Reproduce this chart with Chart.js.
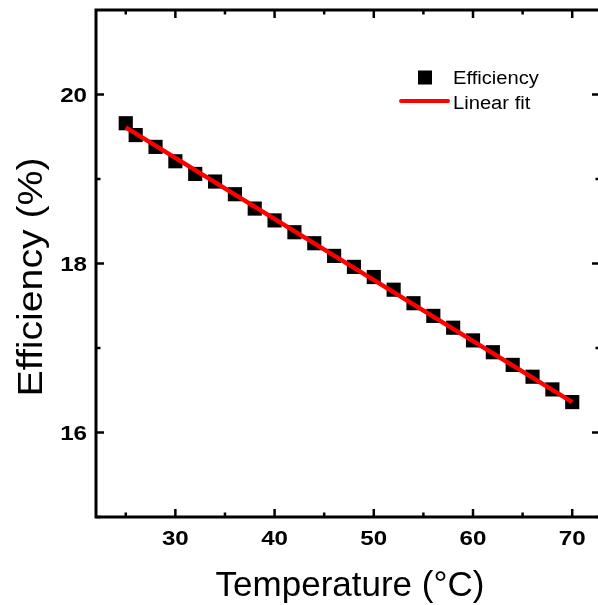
<!DOCTYPE html>
<html>
<head>
<meta charset="utf-8">
<script src="https://cdn.jsdelivr.net/npm/chart.js@4/dist/chart.umd.min.js"></script>
<style>
  html, body { margin: 0; padding: 0; overflow: hidden; background: #fff; }
  canvas { display: block; }
</style>
</head>
<body>
<canvas id="myChart" width="610" height="605"></canvas>
<script>
// Measured efficiency vs. temperature
const temperatures = [25, 26, 28, 30, 32, 34, 36, 38, 40, 42, 44, 46, 48, 50, 52, 54, 56, 58, 60, 62, 64, 66, 68, 70];
const efficiencies = [19.66, 19.52, 19.38, 19.21, 19.06, 18.97, 18.82, 18.65, 18.51, 18.37, 18.24, 18.09,
                      17.96, 17.84, 17.69, 17.53, 17.38, 17.24, 17.09, 16.95, 16.80, 16.66, 16.51, 16.36];

// Linear fit end points
const fitTemperatures = [25, 70];
const fitEfficiencies = [19.61, 16.36];

// Axis ticks
const xMajorTicks = [30, 40, 50, 60, 70];
const xMinorTicks = [25, 35, 45, 55, 65];
const yMajorTicks = [16, 18, 20];
const yMinorTicks = [15, 17, 19];

const FONT = 'Arial, "Liberation Sans", sans-serif';

// Draw text with a horizontal stretch factor
function drawText(ctx, text, x, y, font, sx, align, angle) {
    ctx.save();
    ctx.translate(x, y);
    if (angle) ctx.rotate(angle);
    ctx.scale(sx, 1);
    ctx.font = font;
    ctx.fillStyle = '#000';
    ctx.textAlign = align;
    ctx.textBaseline = 'alphabetic';
    ctx.fillText(text, 0, 0);
    ctx.restore();
}

// Frame, inward ticks, labels, titles and legend
const framePlugin = {
    id: 'frame',
    afterDraw(chart) {
        const ctx = chart.ctx;
        const area = chart.chartArea;
        const xs = chart.scales.x;
        const ys = chart.scales.y;

        ctx.save();
        ctx.strokeStyle = '#000';
        ctx.lineWidth = 3;
        ctx.strokeRect(area.left, area.top, area.right - area.left, area.bottom - area.top);

        ctx.lineWidth = 2.5;
        ctx.beginPath();
        const xTick = (v, len) => {
            const px = xs.getPixelForValue(v);
            ctx.moveTo(px, area.bottom); ctx.lineTo(px, area.bottom - len);
            ctx.moveTo(px, area.top); ctx.lineTo(px, area.top + len);
        };
        const yTick = (v, len) => {
            const py = ys.getPixelForValue(v);
            ctx.moveTo(area.left, py); ctx.lineTo(area.left + len, py);
            ctx.moveTo(area.right, py); ctx.lineTo(area.right - len, py);
        };
        xMajorTicks.forEach(v => xTick(v, 8));
        xMinorTicks.forEach(v => xTick(v, 4.5));
        yMajorTicks.forEach(v => yTick(v, 8));
        yMinorTicks.forEach(v => yTick(v, 4.5));
        ctx.stroke();
        ctx.restore();

        const tickFont = 'bold 21px ' + FONT;
        xMajorTicks.forEach(v => {
            drawText(ctx, String(v), xs.getPixelForValue(v), area.bottom + 28, tickFont, 1.15, 'center');
        });
        yMajorTicks.forEach(v => {
            drawText(ctx, String(v), area.left - 9, ys.getPixelForValue(v) + 7.5, tickFont, 1.15, 'right');
        });

        // Axis titles
        drawText(ctx, 'Temperature (°C)', 350, 596, '35px ' + FONT, 1.0, 'center');
        drawText(ctx, 'Efficiency (%)', 42, 277, '35px ' + FONT, 1.12, 'center', -Math.PI / 2);

        // Legend
        ctx.save();
        ctx.fillStyle = '#000';
        ctx.fillRect(418, 70.5, 14, 14);
        ctx.strokeStyle = '#ff0000';
        ctx.lineWidth = 4;
        ctx.lineCap = 'round';
        ctx.beginPath();
        ctx.moveTo(401, 101);
        ctx.lineTo(448, 101);
        ctx.stroke();
        ctx.restore();
        drawText(ctx, 'Efficiency', 453, 84, '18px ' + FONT, 1.12, 'left');
        drawText(ctx, 'Linear fit', 453, 109, '18px ' + FONT, 1.12, 'left');
    }
};

const chartConfig = {
    type: 'scatter',
    data: {
        datasets: [
            {
                label: 'Linear fit',
                type: 'line',
                data: fitTemperatures.map((t, i) => ({ x: t, y: fitEfficiencies[i] })),
                borderColor: '#ff0000',
                borderWidth: 4.5,
                pointRadius: 0,
                fill: false,
                order: 0
            },
            {
                label: 'Efficiency',
                data: temperatures.map((t, i) => ({ x: t, y: efficiencies[i] })),
                pointStyle: 'rect',
                pointRadius: 10,
                borderWidth: 0,
                backgroundColor: '#000',
                borderColor: '#000',
                order: 1
            }
        ]
    },
    options: {
        responsive: false,
        animation: false,
        devicePixelRatio: 1,
        layout: { padding: { left: 96, top: 7, right: 6, bottom: 88 } },
        plugins: {
            legend: { display: false },
            tooltip: { enabled: false }
        },
        scales: {
            x: { type: 'linear', min: 22, max: 72.8, display: false },
            y: { type: 'linear', min: 15, max: 21, display: false }
        }
    },
    plugins: [framePlugin]
};

const ctx = document.getElementById('myChart').getContext('2d');
new Chart(ctx, chartConfig);
</script>
</body>
</html>
